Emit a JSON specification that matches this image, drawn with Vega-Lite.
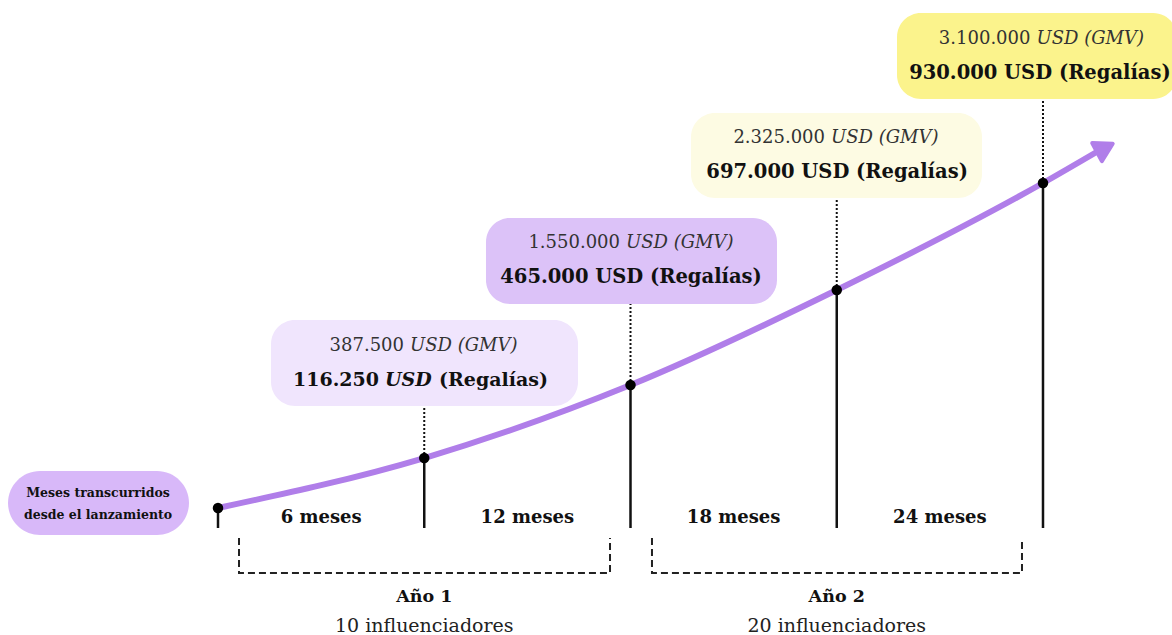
{
  "$schema": "https://vega.github.io/schema/vega-lite/v6.json",
  "width": 1172,
  "height": 635,
  "autosize": {"type": "none"},
  "padding": 0,
  "background": "white",
  "config": {"view": {"stroke": null}, "text": {"font": "DejaVu Serif"}},
  "datasets": {
    "cajas": [
      {"id": "c1", "x": 1.542, "x2": 10.473, "y": 36.06, "y2": 49.61},
      {"id": "c2", "x": 7.796, "x2": 16.262, "y": 52.13, "y2": 65.67},
      {"id": "c3", "x": 13.76, "x2": 22.225, "y": 68.82, "y2": 82.2},
      {"id": "c4", "x": 19.753, "x2": 27.9, "y": 84.41, "y2": 97.95}
    ],
    "etiqueta_caja": [
      {"id": "etiqueta", "x": -6.109, "x2": -0.844, "y": 15.75, "y2": 25.83}
    ],
    "hitos": [
      {"x": 0, "y": 20.0, "base": 16.85},
      {"x": 6, "y": 27.87, "base": 16.85, "tope": 36.06},
      {"x": 12, "y": 39.37, "base": 16.85, "tope": 52.13},
      {"x": 18, "y": 54.33, "base": 16.85, "tope": 68.82},
      {"x": 24, "y": 71.18, "base": 16.85, "tope": 84.41}
    ],
    "curva": [
      {"x": 0, "y": 20.0},
      {"x": 6, "y": 27.87},
      {"x": 12, "y": 39.37},
      {"x": 18, "y": 54.33},
      {"x": 24, "y": 71.18},
      {"x": 25.66, "y": 76.38}
    ],
    "flecha": [{"x": 25.8, "y": 76.7}],
    "corchetes": [
      {"g": "a", "o": 1, "x": 0.611, "y": 15.28},
      {"g": "a", "o": 2, "x": 0.611, "y": 9.76},
      {"g": "a", "o": 3, "x": 11.404, "y": 9.76},
      {"g": "a", "o": 4, "x": 11.404, "y": 15.28},
      {"g": "b", "o": 1, "x": 12.625, "y": 15.28},
      {"g": "b", "o": 2, "x": 12.625, "y": 9.76},
      {"g": "b", "o": 3, "x": 23.389, "y": 9.76},
      {"g": "b", "o": 4, "x": 23.389, "y": 15.28}
    ],
    "gmv_num": [
      {"t": "387.500", "x": 5.411, "y": 45.51},
      {"t": "1.550.000", "x": 11.695, "y": 61.73},
      {"t": "2.325.000", "x": 17.658, "y": 78.27},
      {"t": "3.100.000", "x": 23.636, "y": 93.86}
    ],
    "gmv_usd": [
      {"t": "USD (GMV)", "x": 5.585, "y": 45.51},
      {"t": "USD (GMV)", "x": 11.869, "y": 61.73},
      {"t": "USD (GMV)", "x": 17.833, "y": 78.27},
      {"t": "USD (GMV)", "x": 23.811, "y": 93.86}
    ],
    "regalias": [
      {"t": "465.000 USD (Regalías)", "x": 12.015, "y": 56.38},
      {"t": "697.000 USD (Regalías)", "x": 18.01, "y": 72.91},
      {"t": "930.000 USD (Regalías)", "x": 23.91, "y": 88.5}
    ],
    "reg1_num": [{"t": "116.250", "x": 4.684, "y": 40.16}],
    "reg1_usd": [{"t": "USD", "x": 4.858, "y": 40.16}],
    "reg1_par": [{"t": "(Regalías)", "x": 6.43, "y": 40.16}],
    "meses": [
      {"t": "6 meses", "x": 3, "y": 18.43},
      {"t": "12 meses", "x": 9, "y": 18.43},
      {"t": "18 meses", "x": 15, "y": 18.43},
      {"t": "24 meses", "x": 21, "y": 18.43}
    ],
    "anios": [
      {"t": "Año 1", "x": 6, "y": 5.98},
      {"t": "Año 2", "x": 18, "y": 5.98}
    ],
    "influ": [
      {"t": "10 influenciadores", "x": 6, "y": 1.42},
      {"t": "20 influenciadores", "x": 18, "y": 1.42}
    ],
    "etiqueta": [
      {"t": "Meses transcurridos", "x": -3.49, "y": 22.36},
      {"t": "desde el lanzamiento", "x": -3.49, "y": 18.9}
    ]
  },
  "encoding": {
    "x": {"field": "x", "type": "quantitative", "axis": null, "scale": {"domain": [-6.342, 27.753], "nice": false, "zero": false}},
    "y": {"field": "y", "type": "quantitative", "axis": null, "scale": {"domain": [0, 100], "nice": false, "zero": false}}
  },
  "layer": [
    {
      "data": {"name": "cajas"},
      "mark": {"type": "rect", "cornerRadius": 24},
      "encoding": {
        "x2": {"field": "x2"},
        "y2": {"field": "y2"},
        "color": {"field": "id", "type": "nominal", "legend": null, "scale": {"domain": ["c1", "c2", "c3", "c4"], "range": ["#f0e5fd", "#dcc2f8", "#fdfbe3", "#fbf38c"]}}
      }
    },
    {
      "data": {"name": "etiqueta_caja"},
      "mark": {"type": "rect", "cornerRadius": 32, "color": "#d8b8f9"},
      "encoding": {"x2": {"field": "x2"}, "y2": {"field": "y2"}}
    },
    {
      "data": {"name": "hitos"},
      "transform": [{"filter": "datum.x > 0"}],
      "mark": {"type": "rule", "color": "#111111", "strokeWidth": 2, "strokeDash": [2, 2]},
      "encoding": {"y2": {"field": "tope"}}
    },
    {
      "data": {"name": "hitos"},
      "mark": {"type": "rule", "color": "#111111", "strokeWidth": 2.5},
      "encoding": {"y2": {"field": "base"}}
    },
    {
      "data": {"name": "corchetes"},
      "mark": {"type": "line", "color": "#222222", "strokeWidth": 2, "strokeDash": [7, 4]},
      "encoding": {"detail": {"field": "g"}, "order": {"field": "o", "type": "quantitative"}}
    },
    {
      "data": {"name": "curva"},
      "mark": {"type": "line", "color": "#b07ee9", "strokeWidth": 6, "interpolate": "monotone", "strokeCap": "butt"},
      "encoding": {}
    },
    {
      "data": {"name": "flecha"},
      "mark": {"type": "point", "shape": "triangle-right", "size": 420, "filled": true, "opacity": 1, "color": "#b07ee9", "stroke": "#b07ee9", "strokeWidth": 4, "strokeJoin": "round", "angle": -28},
      "encoding": {}
    },
    {
      "data": {"name": "hitos"},
      "mark": {"type": "circle", "size": 110, "color": "#000000", "opacity": 1},
      "encoding": {}
    },
    {
      "data": {"name": "gmv_num"},
      "mark": {"type": "text", "align": "right", "baseline": "middle", "fontSize": 18, "color": "#333333"},
      "encoding": {"text": {"field": "t"}}
    },
    {
      "data": {"name": "gmv_usd"},
      "mark": {"type": "text", "align": "left", "baseline": "middle", "fontSize": 18, "fontStyle": "italic", "color": "#333333"},
      "encoding": {"text": {"field": "t"}}
    },
    {
      "data": {"name": "regalias"},
      "mark": {"type": "text", "align": "center", "baseline": "middle", "fontSize": 19.5, "fontWeight": "bold", "color": "#111111"},
      "encoding": {"text": {"field": "t"}}
    },
    {
      "data": {"name": "reg1_num"},
      "mark": {"type": "text", "align": "right", "baseline": "middle", "fontSize": 19, "fontWeight": "bold", "color": "#111111"},
      "encoding": {"text": {"field": "t"}}
    },
    {
      "data": {"name": "reg1_usd"},
      "mark": {"type": "text", "align": "left", "baseline": "middle", "fontSize": 19, "fontWeight": "bold", "fontStyle": "italic", "color": "#111111"},
      "encoding": {"text": {"field": "t"}}
    },
    {
      "data": {"name": "reg1_par"},
      "mark": {"type": "text", "align": "left", "baseline": "middle", "fontSize": 19, "fontWeight": "bold", "color": "#111111"},
      "encoding": {"text": {"field": "t"}}
    },
    {
      "data": {"name": "meses"},
      "mark": {"type": "text", "align": "center", "baseline": "middle", "fontSize": 18, "fontWeight": "bold", "color": "#111111"},
      "encoding": {"text": {"field": "t"}}
    },
    {
      "data": {"name": "anios"},
      "mark": {"type": "text", "align": "center", "baseline": "middle", "fontSize": 17.5, "fontWeight": "bold", "color": "#111111"},
      "encoding": {"text": {"field": "t"}}
    },
    {
      "data": {"name": "influ"},
      "mark": {"type": "text", "align": "center", "baseline": "middle", "fontSize": 19, "color": "#222222"},
      "encoding": {"text": {"field": "t"}}
    },
    {
      "data": {"name": "etiqueta"},
      "mark": {"type": "text", "align": "center", "baseline": "middle", "fontSize": 12.5, "fontWeight": "bold", "color": "#111111"},
      "encoding": {"text": {"field": "t"}}
    }
  ]
}
